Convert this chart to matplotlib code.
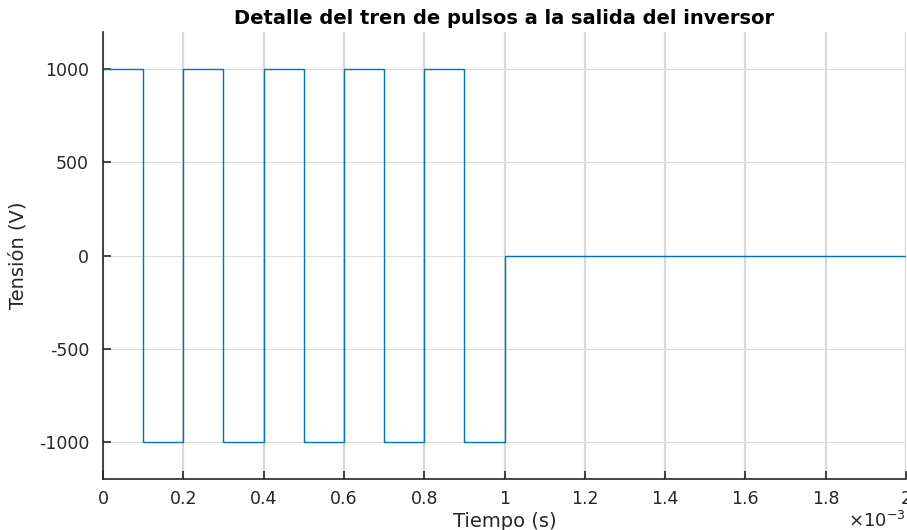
import numpy as np
import matplotlib.pyplot as plt

########## Data: pulse train at inverter output (time in s, voltage in V)
t_edges = [0, 0.1e-3, 0.2e-3, 0.3e-3, 0.4e-3, 0.5e-3, 0.6e-3, 0.7e-3, 0.8e-3, 0.9e-3, 1.0e-3, 2.0e-3]
v_level = [1000, -1000, 1000, -1000, 1000, -1000, 1000, -1000, 1000, -1000, 0, 0]

x_ticks = [0, 0.2e-3, 0.4e-3, 0.6e-3, 0.8e-3, 1.0e-3, 1.2e-3, 1.4e-3, 1.6e-3, 1.8e-3, 2.0e-3]
x_ticklabels = ["0", "0.2", "0.4", "0.6", "0.8", "1", "1.2", "1.4", "1.6", "1.8", "2"]
y_ticks = [-1000, -500, 0, 500, 1000]

plt.rcParams['font.family'] = ['DejaVu Sans']

fig = plt.figure(figsize=(9.07, 5.30), dpi=100)
fig.set_facecolor('w')
ax = fig.add_axes([0.1136, 0.0962, 0.8853, 0.8434])

ax.plot(t_edges, v_level, drawstyle='steps-post', color='#0072BD', lw=1.0)

ax.set_xlim(0, 2e-3)
ax.set_ylim(-1200, 1200)
ax.set_xticks(x_ticks)
ax.set_xticklabels(x_ticklabels)
ax.set_yticks(y_ticks)
ax.set_yticklabels([str(v) for v in y_ticks])

# MATLAB-like grid: vertical lines a bit heavier
ax.xaxis.grid(True, color='#d9d9d9', lw=1.6)
ax.yaxis.grid(True, color='#dcdcdc', lw=0.8)
ax.set_axisbelow(True)

for s in ['top', 'right']:
    ax.spines[s].set_visible(False)
for s in ['left', 'bottom']:
    ax.spines[s].set_color('#262626')
    ax.spines[s].set_linewidth(1.2)

ax.tick_params(direction='in', length=6, width=1.2, colors='#262626',
               labelsize=12.5, pad=10)
ax.tick_params(axis='x', pad=8)

ax.set_title("Detalle del tren de pulsos a la salida del inversor",
             fontsize=14, fontweight='bold', pad=6)
ax.set_xlabel("Tiempo (s)", fontsize=14, color='#262626', labelpad=3)
ax.set_ylabel("Tensión (V)", fontsize=14, color='#262626', labelpad=8)

ax.text(1.0, -0.093, r"$\times\mathregular{10^{-3}}$", transform=ax.transAxes,
        ha='right', va='center', fontsize=13, color='#262626')

plt.savefig('out.png', format='png', dpi=100)
